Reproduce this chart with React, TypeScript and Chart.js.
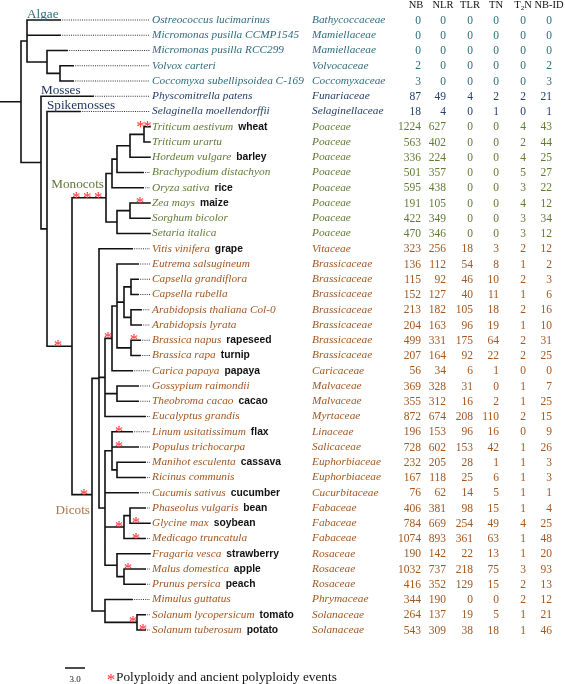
import { useEffect, useRef } from 'react';
import { Chart, registerables } from 'chart.js';

Chart.register(...registerables);

// ---------------- DATA ----------------
const SPECIES = [
  'Ostreococcus lucimarinus', 'Micromonas pusilla CCMP1545', 'Micromonas pusilla RCC299', 'Volvox carteri',
  'Coccomyxa subellipsoidea C-169', 'Physcomitrella patens', 'Selaginella moellendorffii',
  'Triticum aestivum', 'Triticum urartu', 'Hordeum vulgare', 'Brachypodium distachyon', 'Oryza sativa',
  'Zea mays', 'Sorghum bicolor', 'Setaria italica',
  'Vitis vinifera', 'Eutrema salsugineum', 'Capsella grandiflora', 'Capsella rubella',
  'Arabidopsis thaliana Col-0', 'Arabidopsis lyrata', 'Brassica napus', 'Brassica rapa', 'Carica papaya',
  'Gossypium raimondii', 'Theobroma cacao', 'Eucalyptus grandis', 'Linum usitatissimum', 'Populus trichocarpa',
  'Manihot esculenta', 'Ricinus communis', 'Cucumis sativus', 'Phaseolus vulgaris', 'Glycine max',
  'Medicago truncatula', 'Fragaria vesca', 'Malus domestica', 'Prunus persica', 'Mimulus guttatus',
  'Solanum lycopersicum', 'Solanum tuberosum',
];
const COMMON_NAMES = [
  '', '', '', '', '', '', '',
  'wheat', '', 'barley', '', 'rice', 'maize', '', '',
  'grape', '', '', '', '', '', 'rapeseed', 'turnip', 'papaya',
  '', 'cacao', '', 'flax', '', 'cassava', '', 'cucumber', 'bean', 'soybean',
  '', 'strawberry', 'apple', 'peach', '', 'tomato', 'potato',
];
const FAMILIES = [
  'Bathycoccaceae', 'Mamiellaceae', 'Mamiellaceae', 'Volvocaceae', 'Coccomyxaceae', 'Funariaceae', 'Selaginellaceae',
  'Poaceae', 'Poaceae', 'Poaceae', 'Poaceae', 'Poaceae', 'Poaceae', 'Poaceae', 'Poaceae',
  'Vitaceae', 'Brassicaceae', 'Brassicaceae', 'Brassicaceae', 'Brassicaceae', 'Brassicaceae', 'Brassicaceae',
  'Brassicaceae', 'Caricaceae', 'Malvaceae', 'Malvaceae', 'Myrtaceae', 'Linaceae', 'Salicaceae',
  'Euphorbiaceae', 'Euphorbiaceae', 'Cucurbitaceae', 'Fabaceae', 'Fabaceae', 'Fabaceae',
  'Rosaceae', 'Rosaceae', 'Rosaceae', 'Phrymaceae', 'Solanaceae', 'Solanaceae',
];
const GROUP_SIZES: [string, number][] = [['algae', 5], ['moss', 2], ['mono', 8], ['dicot', 26]];

const NB = [0, 0, 0, 2, 3, 87, 18, 1224, 563, 336, 501, 595, 191, 422, 470, 323, 136, 115, 152, 213, 204, 499, 207, 56, 369, 355, 872, 196, 728, 232, 167, 76, 406, 784, 1074, 190, 1032, 416, 344, 264, 543];
const NLR = [0, 0, 0, 0, 0, 49, 4, 627, 402, 224, 357, 438, 105, 349, 346, 256, 112, 92, 127, 182, 163, 331, 164, 34, 328, 312, 674, 153, 602, 205, 118, 62, 381, 669, 893, 142, 737, 352, 190, 137, 309];
const TLR = [0, 0, 0, 0, 0, 4, 0, 0, 0, 0, 0, 0, 0, 0, 0, 18, 54, 46, 40, 105, 96, 175, 92, 6, 31, 16, 208, 96, 153, 28, 25, 14, 98, 254, 361, 22, 218, 129, 0, 19, 38];
const TN = [0, 0, 0, 0, 0, 2, 1, 0, 0, 0, 0, 0, 0, 0, 0, 3, 8, 10, 11, 18, 19, 64, 22, 1, 0, 2, 110, 16, 42, 1, 6, 5, 15, 49, 63, 13, 75, 15, 0, 5, 18];
const T2N = [0, 0, 0, 0, 0, 2, 0, 4, 2, 4, 5, 3, 4, 3, 3, 2, 1, 2, 1, 2, 1, 2, 2, 0, 1, 1, 2, 0, 1, 1, 1, 1, 1, 4, 1, 1, 3, 2, 2, 1, 1];
const NBID = [0, 0, 0, 2, 3, 21, 1, 43, 44, 25, 27, 22, 12, 34, 12, 12, 2, 3, 6, 16, 10, 31, 25, 0, 7, 25, 15, 9, 26, 3, 3, 1, 4, 25, 48, 20, 93, 13, 12, 21, 46];
const COLUMN_LABELS = ['NB', 'NLR', 'TLR', 'TN', 'T2N', 'NB-ID'];

// Tree topology with branch lengths (scale bar units); leaves are row indices into SPECIES
const MONOCOT_NEWICK =
  '(((((7:0.9,8:0.9)TriP:2.1,9:3.0)TH:1.95,10:3.9)THB:0.75,11:4.65)BEP:0.9,((12:3.0,13:3.0)ZS:1.95,14:4.95)PAC:1.65)Mono:5.1';
const DICOT_NEWICK =
  '((15:4.95,(((16:3.15,((17:1.05,18:1.05)Caps:1.05,(19:1.5,20:1.5)Arab:1.05)CA:1.05,(21:1.35,22:1.35)Bras:2.1)Brassicaceae:0.75,23:3.0)Brassicales:1.05,(24:3.15,25:3.15)Malv:1.8,26:6.0)M:0.9,((27:3.0,28:3.9,(29:4.2,30:4.2)Euph:0.75)Malp:1.05,31:4.95,((32:2.25,33:3.0)PG:0.9,34:3.15)Fab:2.85,(35:4.95,(36:3.15,37:3.15)MP:1.05)Ros:1.8)F:0.9)VR:1.05,(38:4.05,(39:1.2,40:1.2)Sol:4.8)Ast:1.95)Dicot:3.0';
const TREE_NEWICK =
  '((0:4.95,1:4.95,(2:3.0,(3:1.95,4:1.95)VC:1.95)Sub:3.0)Algae:0.9,(5:7.8,(6:4.95,(' +
  MONOCOT_NEWICK + ',' + DICOT_NEWICK + ')Seed:3.75)Vascular:0.9)Land:3.0)Root:3.15;';

// Polyploidy events: node, number of stars, position along branch (fraction)
const STAR_EVENTS = [
  { node: '7', n: 2, at: 0.0 },
  { node: '12', n: 1, at: 0.5 },
  { node: 'Mono', n: 3, at: 0.45 },
  { node: 'Seed', n: 1, at: 0.44 },
  { node: 'Dicot', n: 1, at: 0.6 },
  { node: 'Brassicales', n: 1, at: 0.43 },
  { node: '21', n: 1, at: 0.33 },
  { node: '27', n: 1, at: 0.35 },
  { node: '28', n: 1, at: 0.27 },
  { node: 'Fab', n: 1, at: 0.74 },
  { node: '33', n: 1, at: 0.3 },
  { node: '34', n: 1, at: 0.57 },
  { node: '36', n: 1, at: 0.19 },
  { node: 'Sol', n: 1, at: 0.875 },
  { node: '40', n: 1, at: 0.75 },
];
const CLADE_LABELS = [
  { node: 'Algae', text: 'Algae', group: 'algae', mode: 'above' },
  { node: 'Land', text: 'Mosses', group: 'mossLabel', mode: 'above' },
  { node: 'Vascular', text: 'Spikemosses', group: 'mossLabel', mode: 'above' },
  { node: 'Mono', text: 'Monocots', group: 'monoLabel', mode: 'stemAbove' },
  { node: 'Dicot', text: 'Dicots', group: 'dicotLabel', mode: 'stemBelow' },
];
const SCALE_BAR = 3.0;
const SCALE_BAR_LABEL = '3.0';
const LEGEND_TEXT = 'Polyploidy and ancient polyploidy events';
const LABEL_X = 22.5; // tree units where leader lines end

// ---------------- STYLE ----------------
const COLORS: Record<string, string> = {
  algae: '#2d6c7d',
  moss: '#22406b',
  mossLabel: '#1d3058',
  mono: '#5f7a33',
  monoLabel: '#5f7838',
  dicot: '#a3561e',
  dicotLabel: '#b07444',
};
const SERIF = "'Liberation Serif', 'Times New Roman', serif";
const SANS = "'Liberation Sans', Arial, sans-serif";
const W = 565;
const H = 684;
const PX_PER_UNIT = 20 / 3;
const ROW0 = 20;
const ROW_STEP = 15.25;
const Y_MIN = -ROW0 / ROW_STEP;
const Y_MAX = (H - ROW0) / ROW_STEP;
const FAMILY_X = 312;
const COL_RIGHT = [421, 446, 473, 499, 526, 552];
const COL_CENTER = [416, 443, 470, 496, 523, 549];

// ---------------- TREE ----------------
type TNode = { name: string; len: number; children: TNode[]; depth: number; pdepth: number; y: number };

function parseNewick(s: string): TNode {
  let i = 0;
  const parseNode = (): TNode => {
    const node: TNode = { name: '', len: 0, children: [], depth: 0, pdepth: 0, y: 0 };
    if (s[i] === '(') {
      i++;
      node.children.push(parseNode());
      while (s[i] === ',') {
        i++;
        node.children.push(parseNode());
      }
      i++;
    }
    let name = '';
    while (i < s.length && !',():;'.includes(s[i])) name += s[i++];
    node.name = name.trim();
    if (s[i] === ':') {
      i++;
      let num = '';
      while (i < s.length && !',();'.includes(s[i])) num += s[i++];
      node.len = parseFloat(num);
    }
    return node;
  };
  return parseNode();
}

function layoutTree(n: TNode, pdepth: number) {
  n.pdepth = pdepth;
  n.depth = pdepth + n.len;
  if (n.children.length === 0) {
    n.y = Number(n.name);
  } else {
    n.children.forEach((c) => layoutTree(c, n.depth));
    n.y = (n.children[0].y + n.children[n.children.length - 1].y) / 2;
  }
}

function collect(n: TNode, map: Record<string, TNode>, list: TNode[]) {
  map[n.name] = n;
  list.push(n);
  n.children.forEach((c) => collect(c, map, list));
}

function groupOf(i: number): string {
  let acc = 0;
  for (const [g, size] of GROUP_SIZES) {
    acc += size;
    if (i < acc) return g;
  }
  return 'dicot';
}

function buildTree() {
  const root = parseNewick(TREE_NEWICK);
  layoutTree(root, 0);
  const map: Record<string, TNode> = {};
  const list: TNode[] = [];
  collect(root, map, list);
  const branches: { x: number | null; y: number | null }[] = [];
  const leaders: { x: number | null; y: number | null }[] = [];
  for (const n of list) {
    branches.push({ x: n.pdepth, y: n.y }, { x: n.depth, y: n.y }, { x: null, y: null });
    if (n.children.length) {
      const a = n.children[0];
      const b = n.children[n.children.length - 1];
      branches.push({ x: n.depth, y: a.y }, { x: n.depth, y: b.y }, { x: null, y: null });
    } else if (n.depth < LABEL_X - 0.05) {
      leaders.push({ x: n.depth, y: n.y }, { x: LABEL_X, y: n.y }, { x: null, y: null });
    }
  }
  return { map, branches, leaders };
}

// ---------------- COMPONENT ----------------
export default function App() {
  const ref = useRef<HTMLCanvasElement>(null);

  useEffect(() => {
    const { map, branches, leaders } = buildTree();
    const columns = [NB, NLR, TLR, TN, T2N, NBID];

    const textPlugin = {
      id: 'treeText',
      afterDatasetsDraw(chart: any) {
        const ctx: CanvasRenderingContext2D = chart.ctx;
        const xs = chart.scales.x;
        const ys = chart.scales.y;
        ctx.save();
        const labelX = xs.getPixelForValue(LABEL_X) + 2;

        // species, common names, families, numbers
        SPECIES.forEach((sp, i) => {
          const g = groupOf(i);
          const y = ys.getPixelForValue(i);
          ctx.textBaseline = 'middle';
          ctx.textAlign = 'left';
          ctx.fillStyle = COLORS[g];
          ctx.font = `italic 11.3px ${SERIF}`;
          ctx.fillText(sp, labelX, y);
          const w = ctx.measureText(sp).width;
          ctx.fillText(FAMILIES[i], FAMILY_X, y);
          if (COMMON_NAMES[i]) {
            ctx.fillStyle = '#111';
            ctx.font = `bold 10.3px ${SANS}`;
            ctx.fillText(COMMON_NAMES[i], labelX + w + 5, y);
          }
          ctx.fillStyle = COLORS[g];
          ctx.font = `11.5px ${SERIF}`;
          ctx.textAlign = 'right';
          columns.forEach((col, c) => {
            ctx.fillText(String(col[i]), COL_RIGHT[c], y + 0.5);
          });
        });

        // header
        const hy = ys.getPixelForValue(-1) + 0.5;
        ctx.fillStyle = '#111';
        ctx.textBaseline = 'middle';
        COLUMN_LABELS.forEach((lab, c) => {
          if (lab === 'T2N') {
            ctx.font = `10.5px ${SERIF}`;
            const wT = ctx.measureText('T').width;
            const wN = ctx.measureText('N').width;
            ctx.font = `7px ${SERIF}`;
            const w2 = ctx.measureText('2').width;
            let x = COL_CENTER[c] - (wT + w2 + wN) / 2;
            ctx.textAlign = 'left';
            ctx.font = `10.5px ${SERIF}`;
            ctx.fillText('T', x, hy);
            x += wT;
            ctx.font = `7px ${SERIF}`;
            ctx.fillText('2', x, hy + 3);
            x += w2;
            ctx.font = `10.5px ${SERIF}`;
            ctx.fillText('N', x, hy);
          } else {
            ctx.font = `10.5px ${SERIF}`;
            ctx.textAlign = 'center';
            ctx.fillText(lab, COL_CENTER[c], hy);
          }
        });

        // clade labels
        ctx.font = `13.2px ${SERIF}`;
        ctx.textBaseline = 'alphabetic';
        CLADE_LABELS.forEach((cl) => {
          const n = map[cl.node];
          ctx.fillStyle = COLORS[cl.group];
          if (cl.mode === 'above') {
            ctx.textAlign = 'left';
            ctx.fillText(cl.text, xs.getPixelForValue(n.depth), ys.getPixelForValue(n.children[0].y) - 2.5);
          } else if (cl.mode === 'stemAbove') {
            ctx.textAlign = 'right';
            ctx.fillText(cl.text, xs.getPixelForValue(n.depth) - 2, ys.getPixelForValue(n.y) - 10);
          } else {
            ctx.textAlign = 'right';
            ctx.fillText(cl.text, xs.getPixelForValue(n.depth) - 2, ys.getPixelForValue(n.y) + 19);
          }
        });

        // polyploidy stars
        ctx.font = `17px ${SERIF}`;
        ctx.fillStyle = '#ff2b2b';
        ctx.textAlign = 'center';
        ctx.textBaseline = 'alphabetic';
        STAR_EVENTS.forEach((ev) => {
          const n = map[ev.node];
          const cx = xs.getPixelForValue(n.pdepth + ev.at * (n.depth - n.pdepth));
          const gap = ev.n >= 3 ? 11 : 7;
          const y = ys.getPixelForValue(n.y) + 5;
          for (let k = 0; k < ev.n; k++) {
            ctx.fillText('*', cx + (k - (ev.n - 1) / 2) * gap, y);
          }
        });

        // scale bar + legend
        const barLen = xs.getPixelForValue(SCALE_BAR) - xs.getPixelForValue(0);
        const bx = 65;
        const by = 668;
        ctx.strokeStyle = '#111';
        ctx.lineWidth = 1.5;
        ctx.beginPath();
        ctx.moveTo(bx, by);
        ctx.lineTo(bx + barLen, by);
        ctx.stroke();
        ctx.fillStyle = '#111';
        ctx.font = `9px ${SERIF}`;
        ctx.textAlign = 'center';
        ctx.textBaseline = 'middle';
        ctx.fillText(SCALE_BAR_LABEL, bx + barLen / 2, 680);
        ctx.textBaseline = 'alphabetic';
        ctx.fillStyle = '#ff2b2b';
        ctx.font = `17px ${SERIF}`;
        ctx.fillText('*', 111, 685);
        ctx.fillStyle = '#111';
        ctx.textAlign = 'left';
        ctx.font = `13.3px ${SERIF}`;
        ctx.fillText(LEGEND_TEXT, 116, 681);
        ctx.restore();
      },
    };

    const chart = new Chart(ref.current as HTMLCanvasElement, {
      type: 'scatter',
      data: {
        datasets: [
          {
            label: 'branches',
            data: branches as any,
            showLine: true,
            spanGaps: false,
            borderColor: '#111',
            borderWidth: 1.6,
            borderCapStyle: 'square',
            pointRadius: 0,
            pointHitRadius: 0,
          } as any,
          {
            label: 'leaders',
            data: leaders as any,
            showLine: true,
            spanGaps: false,
            borderColor: '#333',
            borderWidth: 1,
            borderDash: [1, 1.2],
            pointRadius: 0,
            pointHitRadius: 0,
          } as any,
        ],
      },
      options: {
        responsive: false,
        animation: false,
        events: [],
        layout: { padding: 0 },
        plugins: { legend: { display: false }, tooltip: { enabled: false }, title: { display: false } },
        scales: {
          x: { type: 'linear', min: 0, max: W / PX_PER_UNIT, display: false },
          y: { type: 'linear', min: Y_MIN, max: Y_MAX, reverse: true, display: false },
        },
      },
      plugins: [textPlugin],
    });
    return () => chart.destroy();
  }, []);

  return (
    <div style={{ position: 'absolute', left: 0, top: 0, width: W, height: H, background: '#fff' }}>
      <canvas ref={ref} width={W} height={H} style={{ display: 'block' }} />
    </div>
  );
}
